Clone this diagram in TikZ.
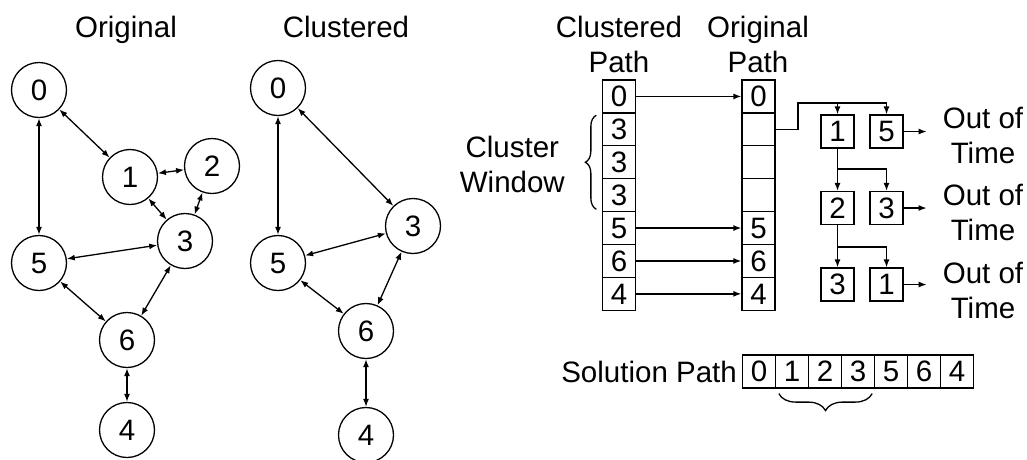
\documentclass[tikz,border=0pt]{standalone}
\usepackage{fontspec}
\setmainfont{Liberation Sans}
\usetikzlibrary{arrows.meta, positioning, calc, decorations.pathreplacing}

\begin{document}
\begin{tikzpicture}[
  x=1pt, y=-1pt,
  font=\fontsize{29.5}{35}\selectfont,
  >={Latex[length=8pt,width=6pt]},
  vert/.style={draw, circle, line width=1.3pt, minimum size=55pt, inner sep=0pt},
  cell/.style={draw, line width=1.3pt, minimum width=33pt, minimum height=32.9pt, inner sep=0pt},
  title/.style={align=center, inner sep=0pt, anchor=base},
  lbl/.style={align=center, inner sep=0pt},
  link/.style={<->, line width=1.3pt},
  arr/.style={->, line width=1.3pt},
  brace/.style={decorate, decoration={brace, amplitude=#1}, line width=1.3pt}
]
\clip (0,0) rectangle (1027,459);

% titles
\node[title] (tOrig) at (126,37) {Original};
\node[title] (tClus) at (346,37) {Clustered};
\node[title] (tCP) at (619,72) {Clustered\\Path};
\node[title] (tOP) at (758,72) {Original\\Path};

% original graph
\node[vert] (o0) at (39,90) {0};
\node[vert] (o1) at (130,177) {1};
\node[vert] (o2) at (212,166) {2};
\node[vert] (o3) at (185,241) {3};
\node[vert] (o5) at (39,263) {5};
\node[vert] (o6) at (127,340) {6};
\node[vert] (o4) at (127,430) {4};

\draw[link] (o0) -- (o1);
\draw[link] (o0) -- (o5);
\draw[link] (o1) -- (o2);
\draw[link] (o1) -- (o3);
\draw[link] (o2) -- (o3);
\draw[link] (o3) -- (o5);
\draw[link] (o3) -- (o6);
\draw[link] (o5) -- (o6);
\draw[link] (o6) -- (o4);

% clustered graph
\node[vert] (c0) at (278,88) {0};
\node[vert] (c3) at (413,226) {3};
\node[vert] (c5) at (278,263) {5};
\node[vert] (c6) at (366,331) {6};
\node[vert] (c4) at (366,435) {4};

\draw[link] (c0) -- (c3);
\draw[link] (c0) -- (c5);
\draw[link] (c3) -- (c5);
\draw[link] (c3) -- (c6);
\draw[link] (c5) -- (c6);
\draw[link] (c6) -- (c4);

% clustered and original paths
\foreach \v [count=\i] in {0,3,3,3,5,6,4}
  \node[cell] (cp\i) at (619,63.55+32.9*\i) {\v};
\foreach \v [count=\i] in {0,{},{},{},5,6,4}
  \node[cell] (op\i) at (758.5,63.55+32.9*\i) {\v};
\foreach \i in {1,5,6,7}
  \draw[arr] (cp\i) -- (op\i);

\draw[brace=11pt] ([xshift=-5.5pt,yshift=3pt]cp4.south west) -- ([xshift=-5.5pt,yshift=-3pt]cp2.north west);
\node[lbl, anchor=east] (cw) at (565,164) {Cluster\\Window};

% search tree
\node[cell] (t1) at (837.5,131.5) {1};
\node[cell] (t5) at (886.5,131.5) {5};
\node[cell] (t2) at (837.5,208) {2};
\node[cell] (t3) at (886.5,208) {3};
\node[cell] (t3b) at (837.5,284.5) {3};
\node[cell] (t1b) at (886.5,284.5) {1};

\coordinate (split) at (798,103);
\coordinate (fork1) at (837.5,169);
\coordinate (fork2) at (837.5,247);

\draw[arr] (op2.east) -| (split) -| (t5.north);
\draw[arr] (split -| t1.north) -- (t1.north);
\draw[arr] (t1.south) -- (t2.north);
\draw[arr] (fork1) -| (t3.north);
\draw[arr] (t2.south) -- (t3b.north);
\draw[arr] (fork2) -| (t1b.north);

\node[lbl] (oot1) at (983,135) {Out of\\Time};
\node[lbl] (oot2) at (983,212) {Out of\\Time};
\node[lbl] (oot3) at (983,290) {Out of\\Time};

\draw[arr, shorten >=16pt] (t5.east) -- (t5.east -| oot1.west);
\draw[arr, shorten >=16pt] (t3.east) -- (t3.east -| oot2.west);
\draw[arr, shorten >=16pt] (t1b.east) -- (t1b.east -| oot3.west);

% solution path
\node[lbl, anchor=east] (sol) at (737,372) {Solution Path};
\foreach \v [count=\i] in {0,1,2,3,5,6,4}
  \node[cell] (sp\i) at (726+33*\i,371.5) {\v};
\draw[brace=17pt] ([xshift=-3pt,yshift=-5pt]sp4.south east) -- ([xshift=4pt,yshift=-5pt]sp2.south west);
\end{tikzpicture}
\end{document}
